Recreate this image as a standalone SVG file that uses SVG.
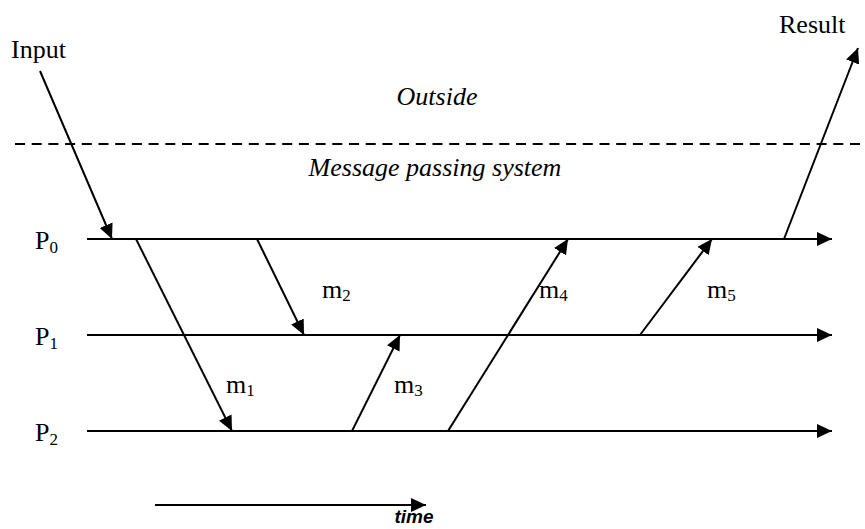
<svg xmlns="http://www.w3.org/2000/svg" width="865" height="529" viewBox="0 0 865 529">
<defs>
<style>
.t{font-family:"Liberation Serif","Times New Roman",serif;font-size:26px;fill:#000}
.i{font-style:italic}
.s{font-size:17px}
.ln{stroke:#000;stroke-width:2;fill:none}
.ar{stroke:#000;stroke-width:2;fill:none;marker-end:url(#ah)}
.tm{font-family:"Liberation Sans",Arial,sans-serif;font-size:19px;font-weight:bold;font-style:italic;fill:#000}
</style>
<marker id="ah" markerUnits="userSpaceOnUse" markerWidth="16" markerHeight="14" refX="15" refY="7" orient="auto">
<path d="M0,0 L15,7 L0,14 z" fill="#000"/>
</marker>
</defs>
<rect width="865" height="529" fill="#fff"/>

<g id="boundary">
<line x1="15" y1="144" x2="865" y2="144" stroke="#000" stroke-width="2" stroke-dasharray="10,6.7"/>
<text class="t i" x="437" y="105" text-anchor="middle">Outside</text>
<text class="t i" x="435" y="176" text-anchor="middle">Message passing system</text>
</g>

<g id="P0">
<line class="ar" x1="87" y1="239" x2="832" y2="239"/>
<text class="t" x="35" y="249">P<tspan class="s" dy="4">0</tspan></text>
</g>
<g id="P1">
<line class="ar" x1="87" y1="335" x2="832" y2="335"/>
<text class="t" x="35" y="345">P<tspan class="s" dy="4">1</tspan></text>
</g>
<g id="P2">
<line class="ar" x1="87" y1="431" x2="832" y2="431"/>
<text class="t" x="35" y="441">P<tspan class="s" dy="4">2</tspan></text>
</g>

<g id="input">
<text class="t" x="11" y="58">Input</text>
</g>
<g id="result">
<text class="t" x="779" y="33">Result</text>
</g>

<g id="connectors">
<line class="ar" x1="40" y1="71" x2="112" y2="239"/>
<line class="ar" x1="784" y1="239" x2="858" y2="48"/>
<line class="ar" x1="136" y1="239" x2="232" y2="431"/>
<line class="ar" x1="257" y1="239" x2="304" y2="335"/>
<line class="ar" x1="352" y1="431" x2="400" y2="335"/>
<line class="ar" x1="448" y1="431" x2="568" y2="239"/>
<line class="ar" x1="640" y1="335" x2="712" y2="239"/>
</g>

<g id="labels">
<text class="t" x="226" y="393">m<tspan class="s" dy="3">1</tspan></text>
<text class="t" x="322" y="298">m<tspan class="s" dy="3">2</tspan></text>
<text class="t" x="394" y="393">m<tspan class="s" dy="3">3</tspan></text>
<text class="t" x="539" y="298">m<tspan class="s" dy="3">4</tspan></text>
<text class="t" x="707" y="298">m<tspan class="s" dy="3">5</tspan></text>
</g>

<g id="time">
<line class="ar" x1="155" y1="505" x2="426" y2="505"/>
<text class="tm" x="414" y="523" text-anchor="middle">time</text>
</g>
</svg>
